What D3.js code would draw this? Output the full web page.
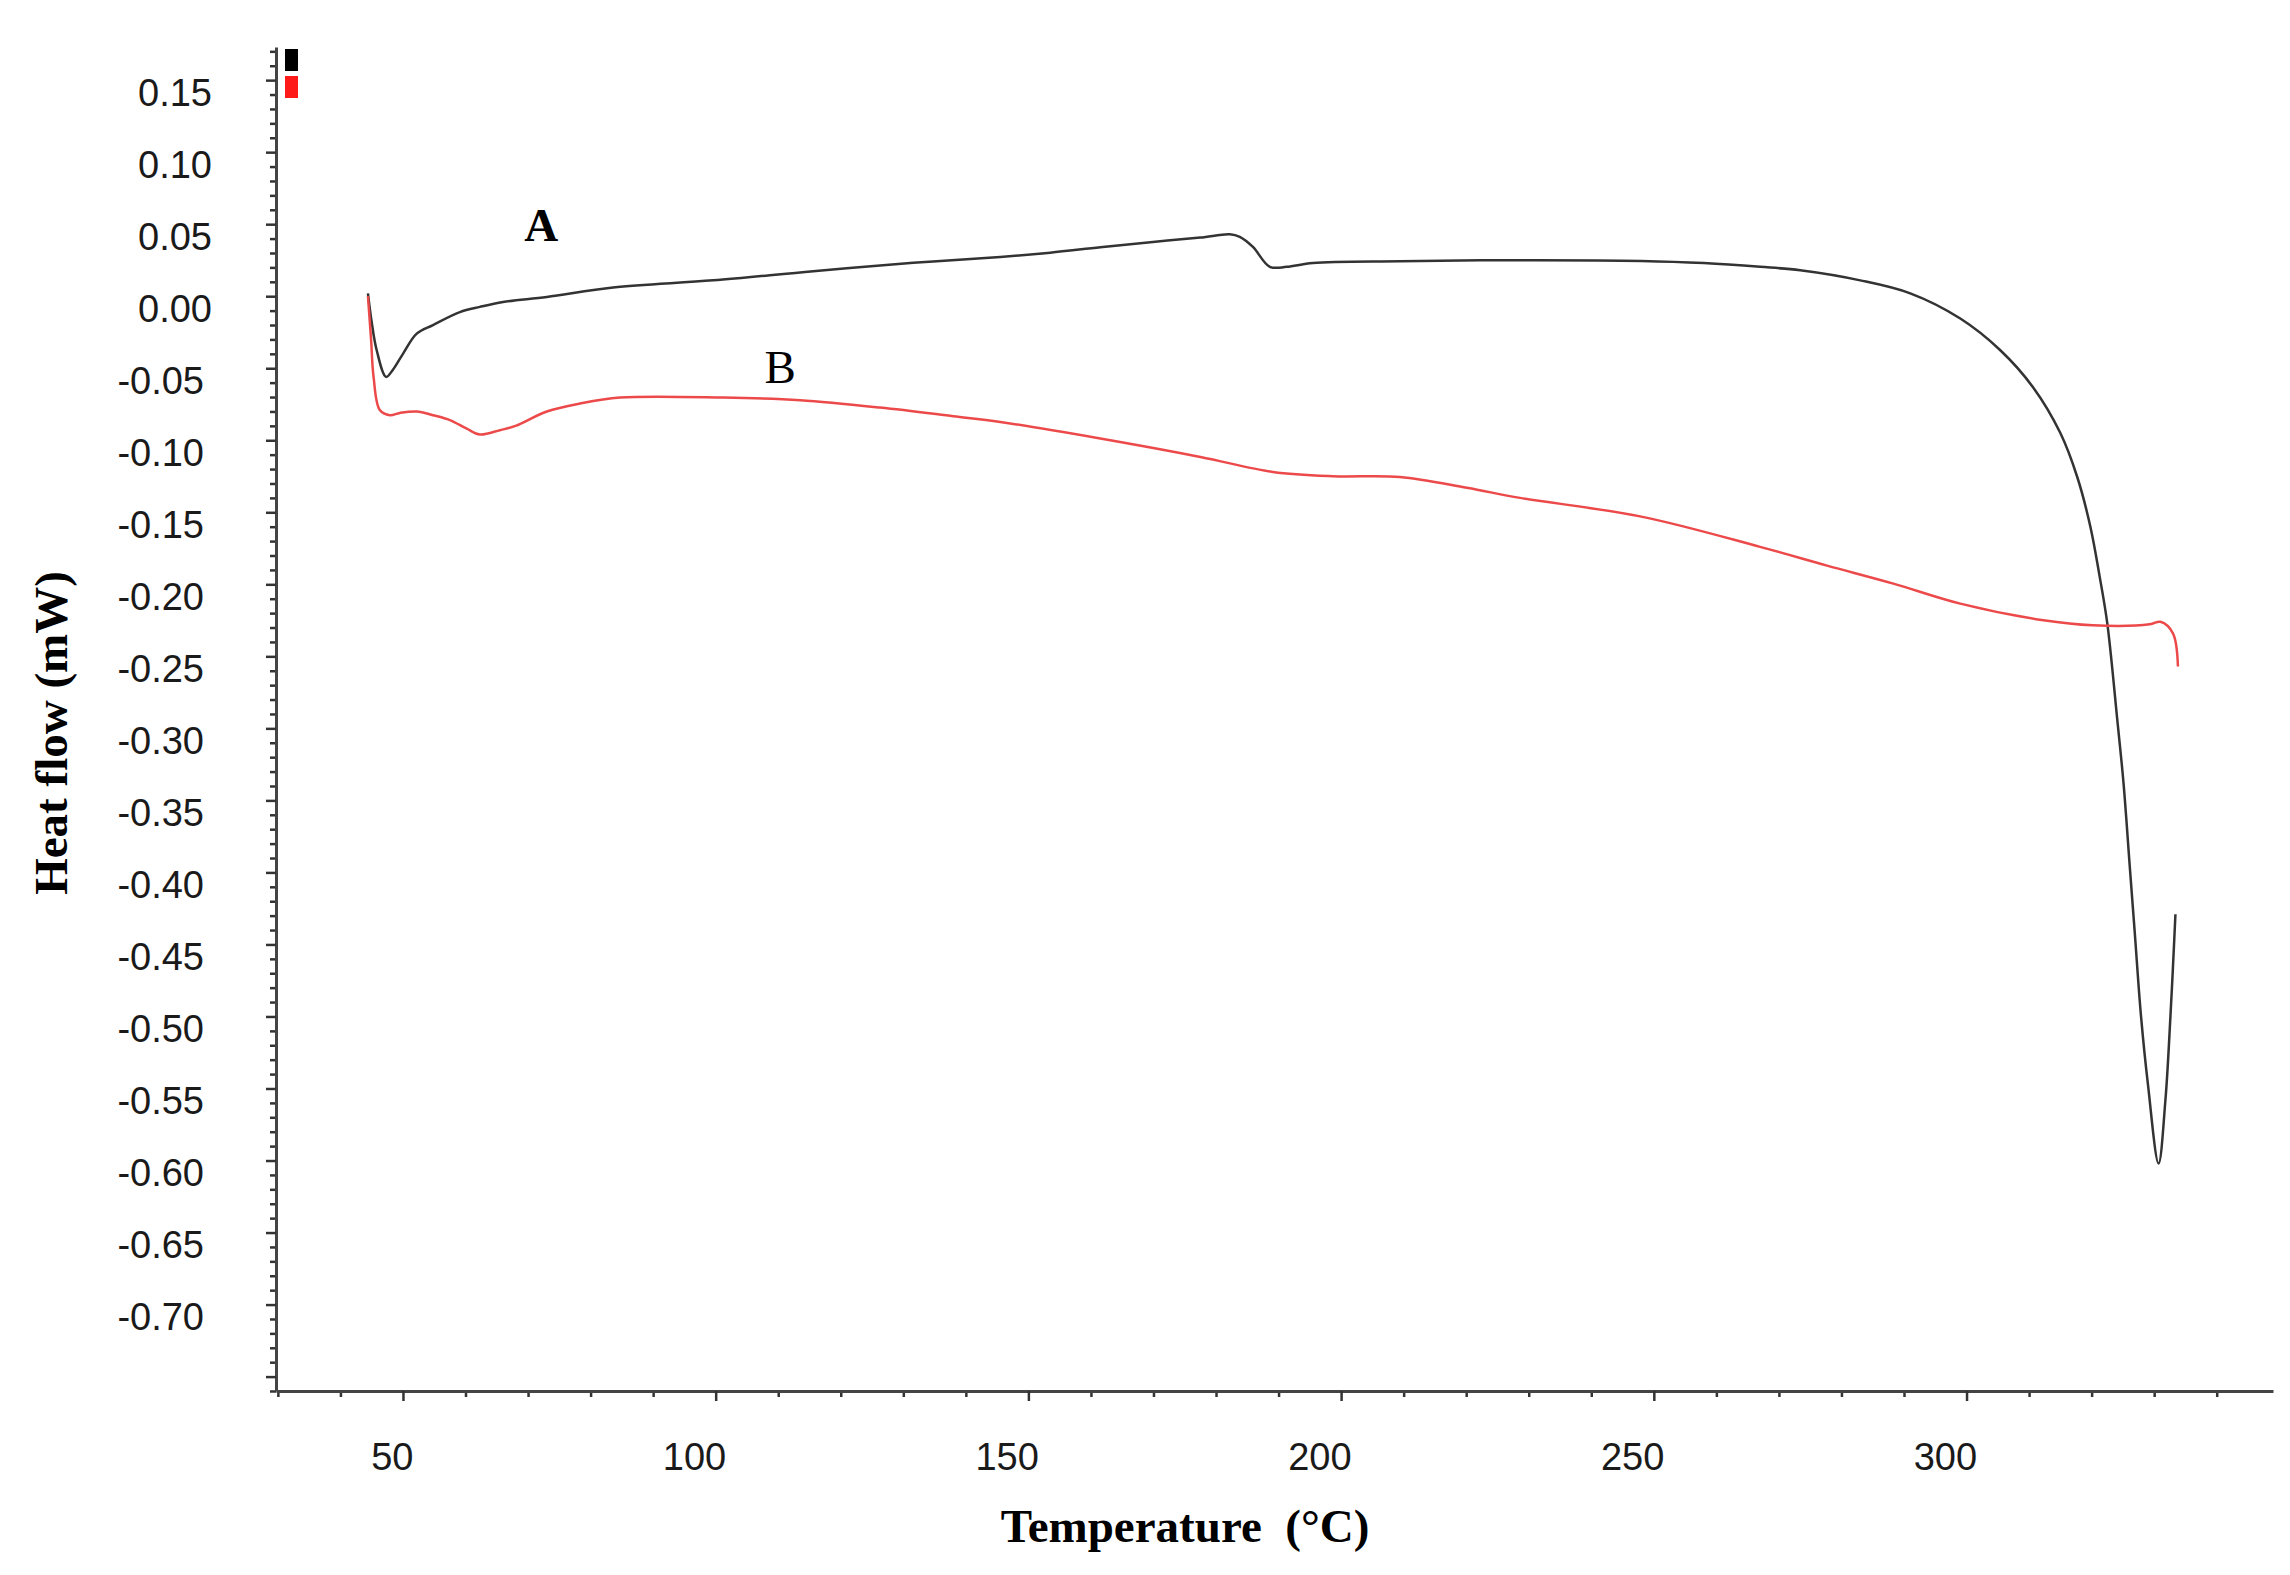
<!DOCTYPE html>
<html>
<head>
<meta charset="utf-8">
<script src="https://cdn.jsdelivr.net/npm/d3@7"></script>
<style>
  body { margin: 0; background: #fff; }
  svg { display: block; }
</style>
</head>
<body>
<script>
// DSC curves (temperature in degC, heat flow in mW)
var tempA = [44.4, 45.0, 45.8, 47.3, 48.4, 50.0, 52.2, 54.8, 59.1, 62.3, 66, 73, 83.6, 99.6,
             115.6, 131.6, 145.5, 153.5, 161.5, 169.5, 177.5, 182.2, 183.8, 185.9, 188.6, 191.3,
             195.5, 209.4, 228.6, 248, 258, 267, 273.4, 283, 291, 299, 305.4, 310.6, 315, 317.7,
             319.8, 321.3, 322.5, 324.1, 325.1, 326.1, 326.9, 327.9, 329.0, 330.7, 331.8, 332.6,
             333.0, 333.4]
var heatA = [0.002, -0.018, -0.0375, -0.056, -0.051, -0.040, -0.026, -0.020, -0.011, -0.0074,
             -0.004, -0.0005, 0.006, 0.011, 0.0174, 0.0232, 0.0272, 0.0302, 0.0340, 0.0375, 0.0407,
             0.0430, 0.0412, 0.0342, 0.0204, 0.0204, 0.0231, 0.0243, 0.025, 0.0245, 0.023, 0.0204,
             0.018, 0.011, 0.002, -0.0155, -0.0375, -0.063, -0.095, -0.1255, -0.160, -0.195,
             -0.227, -0.294, -0.338, -0.396, -0.442, -0.500, -0.547, -0.602, -0.558, -0.500,
             -0.466, -0.429]

var tempB = [44.4, 44.9, 45.3, 46.3, 47.9, 49.5, 52.2, 54.8, 57.5, 60.2, 62.3, 65.5, 68, 73,
             78.3, 84.7, 101.2, 113.5, 126.3, 138, 145.5, 161.5, 177.5, 189.1, 198.7, 209.4,
             220.1, 228.6, 248, 267, 277.7, 288.3, 299, 312.3, 320.2, 329.3, 331, 333, 333.8]
var heatB = [0.0, -0.03, -0.056, -0.079, -0.0826, -0.081, -0.080, -0.0826, -0.086, -0.092,
             -0.096, -0.093, -0.090, -0.080, -0.0745, -0.0704, -0.0704, -0.0722, -0.0773, -0.0833,
             -0.0873, -0.0988, -0.1116, -0.122, -0.125, -0.1255, -0.133, -0.140, -0.153, -0.174,
             -0.187, -0.1995, -0.2134, -0.225, -0.2285, -0.2278, -0.226, -0.234, -0.257]

var xLabelTicks = [50, 100, 150, 200, 250, 300]
var yLabelTicks = [0.15, 0.10, 0.05, 0.00, -0.05, -0.10, -0.15, -0.20, -0.25, -0.30, -0.35,
                   -0.40, -0.45, -0.50, -0.55, -0.60, -0.65, -0.70]

var seriesNames = ["A", "B"]
var seriesColors = ["#333333", "#ec4a4a"]
var legendColors = ["#000000", "#ff1a1a"]

// curve labels: [text, temperature, heat flow, bold]
var curveLabels = [["A", 72.1, 0.038, true], ["B", 110.3, -0.060, false]]

var width = 2290, height = 1575
var margin = {top: 47, right: 17, bottom: 184, left: 276}

var x = d3.scaleLinear()
          .domain([29.7, 349])
          .range([margin.left, width - margin.right])

var y = d3.scaleLinear()
          .domain([-0.76, 0.173])
          .range([height - margin.bottom, margin.top])

var svg = d3.select("body")
            .append("svg")
            .attr("width", width)
            .attr("height", height)

// minor ticks every 10 degC / 0.01 mW
var xMinor = d3.range(30, 341, 10).filter(d => d % 50 !== 0)
var yMinor = d3.range(-76, 18).map(d => d / 100).filter(d => Math.round(d * 100) % 5 !== 0)

svg.append("g")
   .attr("transform", "translate(0," + y.range()[0] + ")")
   .call(d3.axisBottom(x).tickValues(xMinor).tickSize(6).tickSizeOuter(0).tickFormat(""))
   .call(g => g.select(".domain").remove())

svg.append("g")
   .attr("transform", "translate(" + x.range()[0] + ",0)")
   .call(d3.axisLeft(y).tickValues(yMinor).tickSize(6).tickSizeOuter(0).tickFormat(""))
   .call(g => g.select(".domain").remove())

var xAxis = svg.append("g")
               .attr("class", "x-axis")
               .attr("transform", "translate(0," + y.range()[0] + ")")
               .call(d3.axisBottom(x).tickValues(xLabelTicks).tickSize(10).tickSizeOuter(0))

xAxis.selectAll("text")
     .attr("y", 79)
     .attr("dy", 0)
     .attr("x", 10)
     .attr("text-anchor", "end")

var yAxis = svg.append("g")
               .attr("class", "y-axis")
               .attr("transform", "translate(" + x.range()[0] + ",0)")
               .call(d3.axisLeft(y)
                       .tickValues(yLabelTicks.concat([-0.75]))
                       .tickSize(10)
                       .tickSizeOuter(0)
                       .tickFormat(d => d < -0.72 ? "" : d.toFixed(2)))

yAxis.selectAll("text")
     .attr("x", d => d < 0 ? -72 : -64)
     .attr("dy", 25)

svg.selectAll(".x-axis text, .y-axis text")
   .attr("font-family", "Liberation Sans, Arial, sans-serif")
   .attr("font-size", 38)
   .attr("fill", "#1a1a1a")

svg.selectAll(".tick line")
   .attr("stroke", "#333")
   .attr("stroke-width", 2.5)

svg.selectAll(".domain")
   .attr("stroke", "#444")
   .attr("stroke-width", 3)

// legend swatches in the corner, like the instrument export
svg.selectAll(".swatch")
   .data(legendColors)
   .enter()
   .append("rect")
   .attr("class", "swatch")
   .attr("x", margin.left + 9)
   .attr("y", (d, i) => margin.top + 2 + i * 27)
   .attr("width", 13)
   .attr("height", 22)
   .attr("fill", d => d)

var line = d3.line()
             .x(d => x(d[0]))
             .y(d => y(d[1]))
             .curve(d3.curveCatmullRom.alpha(0.5))

var series = [d3.zip(tempA, heatA), d3.zip(tempB, heatB)]

svg.selectAll(".curve")
   .data(series)
   .enter()
   .append("path")
   .attr("class", "curve")
   .attr("fill", "none")
   .attr("stroke", (d, i) => seriesColors[i])
   .attr("stroke-width", 2.5)
   .attr("stroke-linejoin", "round")
   .attr("d", line)

svg.selectAll(".curve-label")
   .data(curveLabels)
   .enter()
   .append("text")
   .attr("class", "curve-label")
   .attr("x", d => x(d[1]))
   .attr("y", d => y(d[2]))
   .attr("text-anchor", "middle")
   .attr("font-family", "Liberation Serif, Times New Roman, serif")
   .attr("font-weight", d => d[3] ? "bold" : "normal")
   .attr("font-size", 47)
   .attr("fill", "#000")
   .text(d => d[0])

// axis titles
svg.append("text")
   .attr("x", 1185)
   .attr("y", 1542)
   .attr("text-anchor", "middle")
   .attr("font-family", "Liberation Serif, Times New Roman, serif")
   .attr("font-weight", "bold")
   .attr("font-size", 47)
   .attr("fill", "#000")
   .text("Temperature\u2002(\u00B0C)")

svg.append("text")
   .attr("transform", "translate(67,733) rotate(-90)")
   .attr("text-anchor", "middle")
   .attr("font-family", "Liberation Serif, Times New Roman, serif")
   .attr("font-weight", "bold")
   .attr("font-size", 47)
   .attr("fill", "#000")
   .text("Heat flow (mW)")
</script>
</body>
</html>
